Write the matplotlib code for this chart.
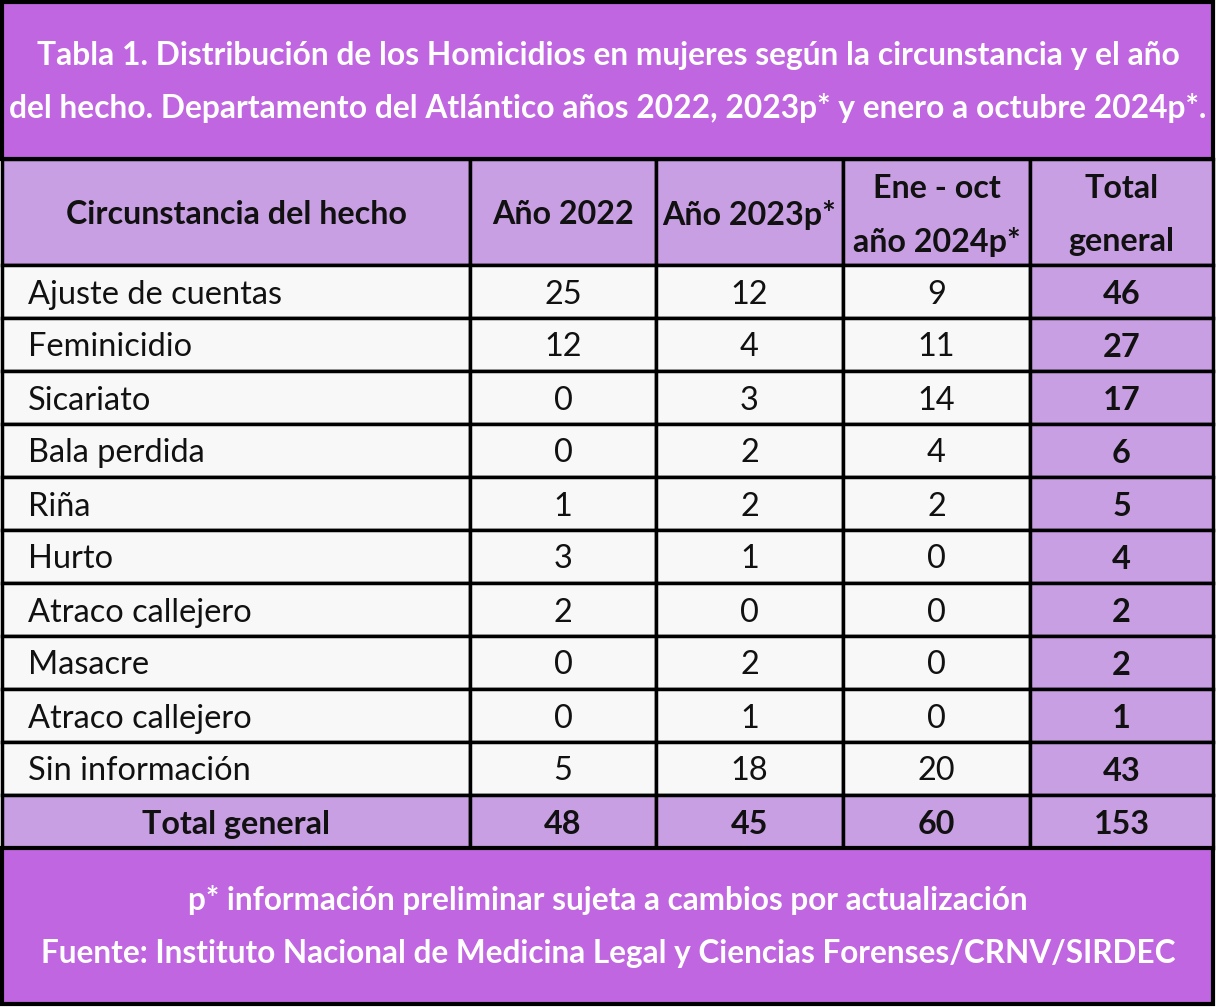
import matplotlib
matplotlib.use("Agg")
import matplotlib.pyplot as plt
from matplotlib.patches import Rectangle

# ---- data ----
title_lines = ["Tabla 1. Distribución de los Homicidios en mujeres según la circunstancia y el año",
               "del hecho. Departamento del Atlántico años 2022, 2023p* y enero a octubre 2024p*."]
headers = ["Circunstancia del hecho", "Año 2022", "Año 2023p*", "Ene - oct\naño 2024p*", "Total\ngeneral"]
categories = ["Ajuste de cuentas", "Feminicidio", "Sicariato", "Bala perdida", "Riña", "Hurto",
              "Atraco callejero", "Masacre", "Atraco callejero", "Sin información"]
y2022 = [25, 12, 0, 0, 1, 3, 2, 0, 0, 5]
y2023 = [12, 4, 3, 2, 2, 1, 0, 2, 1, 18]
y2024 = [9, 11, 14, 4, 2, 0, 0, 0, 0, 20]
totals = [46, 27, 17, 6, 5, 4, 2, 2, 1, 43]
total_label = "Total general"
col_totals = [48, 45, 60, 153]
footer_lines = ["p* información preliminar sujeta a cambios por actualización",
                "Fuente: Instituto Nacional de Medicina Legal y Ciencias Forenses/CRNV/SIRDEC"]

# ---- style ----
PURPLE = "#c066e0"
LIGHT = "#c99fe3"
WHITE_BG = "#f8f8f8"
INK = "#111111"
FONT = "Lato"
FS_TITLE = 22.9
FS_HEAD = 23.2
FS_BODY = 23.4
FS_FOOT = 22.7

W, H = 1216, 1007
fig = plt.figure(figsize=(W / 100, H / 100), dpi=100)
ax = fig.add_axes([0, 0, 1, 1])
ax.set_xlim(0, W)
ax.set_ylim(H, 0)
ax.axis("off")

col_x = [2, 470, 656, 843, 1030, 1213]
title_top, title_bot = 2, 159
head_bot = 265
row_h = 53
body_top = head_bot
n = len(categories)
total_top = body_top + n * row_h
total_bot = total_top + row_h
foot_bot = 1004

def rect(x0, y0, x1, y1, fc, lw=2.5):
    ax.add_patch(Rectangle((x0, y0), x1 - x0, y1 - y0, facecolor=fc, edgecolor="black", lw=lw))

# title
rect(col_x[0], title_top, col_x[-1], title_bot, PURPLE, lw=3)
for i, t in enumerate(title_lines):
    ax.text(W / 2, 56 + i * 52, t, ha="center", va="center", color="white",
            fontsize=FS_TITLE, fontweight="bold", family=FONT)

# header
for j in range(5):
    rect(col_x[j], title_bot, col_x[j + 1], head_bot, LIGHT)
    lines = headers[j].split("\n")
    yc = (title_bot + head_bot) / 2 + 3
    offs = [0] if len(lines) == 1 else [-26, 27]
    for line, off in zip(lines, offs):
        ax.text((col_x[j] + col_x[j + 1]) / 2, yc + off, line,
                ha="center", va="center", fontsize=FS_HEAD, fontweight="bold", family=FONT,
                color=INK)

# body
for i, cat in enumerate(categories):
    y0 = body_top + i * row_h
    y1 = y0 + row_h
    yc = (y0 + y1) / 2 + 3
    vals = [y2022[i], y2023[i], y2024[i]]
    rect(col_x[0], y0, col_x[1], y1, WHITE_BG)
    ax.text(col_x[0] + 26, yc, cat, ha="left", va="center", fontsize=FS_BODY, family=FONT, color=INK)
    for j, v in enumerate(vals):
        rect(col_x[j + 1], y0, col_x[j + 2], y1, WHITE_BG)
        ax.text((col_x[j + 1] + col_x[j + 2]) / 2, yc, str(v), ha="center", va="center",
                fontsize=FS_BODY, family=FONT, color=INK)
    rect(col_x[4], y0, col_x[5], y1, LIGHT)
    ax.text((col_x[4] + col_x[5]) / 2, yc, str(totals[i]), ha="center", va="center",
            fontsize=FS_BODY, fontweight="bold", family=FONT, color=INK)

# total row
yc = (total_top + total_bot) / 2 + 3
rect(col_x[0], total_top, col_x[1], total_bot, LIGHT)
ax.text((col_x[0] + col_x[1]) / 2, yc, total_label, ha="center", va="center",
        fontsize=FS_HEAD, fontweight="bold", family=FONT, color=INK)
for j, v in enumerate(col_totals):
    rect(col_x[j + 1], total_top, col_x[j + 2], total_bot, LIGHT)
    ax.text((col_x[j + 1] + col_x[j + 2]) / 2, yc, str(v), ha="center", va="center",
            fontsize=FS_HEAD, fontweight="bold", family=FONT, color=INK)

# footer
rect(col_x[0], total_bot, col_x[-1], foot_bot, PURPLE, lw=3)
for i, t in enumerate(footer_lines):
    ax.text(W / 2, 900 + i * 53, t, ha="center", va="center", color="white",
            fontsize=FS_FOOT, fontweight="bold", family=FONT)

fig.savefig("out.png", dpi=100)
